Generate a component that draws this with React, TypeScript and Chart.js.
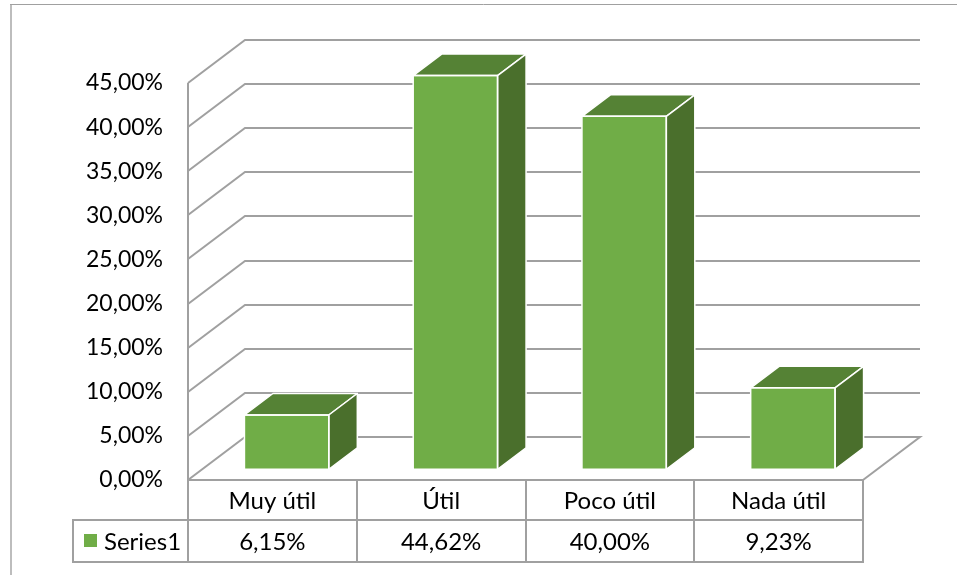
import React, { useEffect, useRef } from "react";
import { Chart, registerables } from "chart.js";

Chart.register(...registerables);

const categories = ["Muy útil", "Útil", "Poco útil", "Nada útil"];
const seriesName = "Series1";
const values = [6.15, 44.62, 40.0, 9.23];
const valueLabels = ["6,15%", "44,62%", "40,00%", "9,23%"];
const yMin = 0;
const yMax = 45;
const yStep = 5;

const FONT = "Lato, 'Open Sans', sans-serif";
const DEPTH = { x: 57, y: -43 };
const BAR_OFFSET = 0.25;
const BAR_DEPTH = 0.5;
const GRID = "#A0A0A0";
const FRONT = "#70AD47";
const TOP = "#558235";
const SIDE = "#4A6F2C";

const fmt = (v: number) => v.toFixed(2).replace(".", ",") + "%";

const excel3d = {
  id: "excel3d",
  beforeDraw(chart: any) {
    const ctx = chart.ctx;
    ctx.save();
    ctx.fillStyle = "#FFFFFF";
    ctx.fillRect(0, 0, chart.width, chart.height);
    ctx.strokeStyle = "#BDBDBD";
    ctx.lineWidth = 2;
    ctx.beginPath();
    ctx.moveTo(11, 4);
    ctx.lineTo(11, chart.height);
    ctx.stroke();
    ctx.strokeStyle = "#A0A0A0";
    ctx.lineWidth = 1;
    ctx.beginPath();
    ctx.moveTo(10, 4.5);
    ctx.lineTo(chart.width, 4.5);
    ctx.stroke();
    ctx.restore();
  },
  beforeDatasetsDraw(chart: any) {
    const ctx = chart.ctx;
    const { left, right } = chart.chartArea;
    const y = chart.scales.y;
    ctx.save();
    ctx.strokeStyle = GRID;
    ctx.lineWidth = 2;
    ctx.lineJoin = "miter";
    for (let v = yMin; v <= yMax + 1e-9; v += yStep) {
      const py = Math.round(y.getPixelForValue(v));
      ctx.beginPath();
      if (v === yMin) {
        ctx.moveTo(right, py);
        ctx.lineTo(right + DEPTH.x, py + DEPTH.y);
        ctx.lineTo(left + DEPTH.x, py + DEPTH.y);
        ctx.lineTo(left, py);
      } else {
        ctx.moveTo(left, py);
        ctx.lineTo(left + DEPTH.x, py + DEPTH.y);
        ctx.lineTo(right + DEPTH.x, py + DEPTH.y);
      }
      ctx.stroke();
    }
    ctx.restore();
    ctx.save();
    ctx.translate(DEPTH.x * BAR_OFFSET, DEPTH.y * BAR_OFFSET);
  },
  afterDatasetsDraw(chart: any) {
    const ctx = chart.ctx;
    const meta = chart.getDatasetMeta(0);
    const dx = DEPTH.x * BAR_DEPTH;
    const dy = DEPTH.y * BAR_DEPTH;
    ctx.lineWidth = 1.5;
    ctx.strokeStyle = "#FFFFFF";
    ctx.lineJoin = "round";
    meta.data.forEach((bar: any) => {
      const { x, y, base, width } = bar.getProps(["x", "y", "base", "width"], true);
      const l = x - width / 2;
      const r = x + width / 2;
      // top face
      ctx.beginPath();
      ctx.moveTo(l, y);
      ctx.lineTo(l + dx, y + dy);
      ctx.lineTo(r + dx, y + dy);
      ctx.lineTo(r, y);
      ctx.closePath();
      ctx.fillStyle = TOP;
      ctx.fill();
      ctx.stroke();
      // side face
      ctx.beginPath();
      ctx.moveTo(r, y);
      ctx.lineTo(r + dx, y + dy);
      ctx.lineTo(r + dx, base + dy);
      ctx.lineTo(r, base);
      ctx.closePath();
      ctx.fillStyle = SIDE;
      ctx.fill();
      ctx.stroke();
      // front face edge
      ctx.strokeRect(l, y, width, base - y);
    });
    ctx.restore();
  },
  afterDraw(chart: any) {
    const ctx = chart.ctx;
    const { left, right } = chart.chartArea;
    const xs = chart.scales.x;
    const ys = chart.scales.y;
    const top = Math.round(ys.getPixelForValue(yMin));
    const row1 = top + 40;
    const row2 = row1 + 42;
    const legendLeft = 73;
    const n = categories.length;
    const bounds: number[] = [left];
    for (let i = 1; i < n; i++) {
      bounds.push(Math.round((xs.getPixelForValue(i - 1) + xs.getPixelForValue(i)) / 2));
    }
    bounds.push(right);
    ctx.save();
    ctx.strokeStyle = GRID;
    ctx.lineWidth = 2;
    ctx.beginPath();
    // left axis line
    ctx.moveTo(left, Math.round(ys.getPixelForValue(yMax)));
    ctx.lineTo(left, row2 + 1);
    // floor front edge
    ctx.moveTo(left, top);
    ctx.lineTo(right, top);
    ctx.moveTo(legendLeft - 1, row1);
    ctx.lineTo(right + 1, row1);
    ctx.moveTo(legendLeft - 1, row2);
    ctx.lineTo(right + 1, row2);
    ctx.moveTo(legendLeft, row1);
    ctx.lineTo(legendLeft, row2);
    bounds.forEach((b, i) => {
      if (i === 0) return;
      ctx.moveTo(b, top);
      ctx.lineTo(b, row2);
    });
    ctx.stroke();

    ctx.fillStyle = "#000000";
    ctx.font = `24px ${FONT}`;
    ctx.textAlign = "center";
    ctx.textBaseline = "middle";
    categories.forEach((c, i) => {
      const cx = xs.getPixelForValue(i);
      ctx.fillText(c, cx, (top + row1) / 2 + 1);
      ctx.fillText(valueLabels[i], cx, (row1 + row2) / 2 + 1);
    });
    // legend key
    ctx.fillStyle = FRONT;
    ctx.fillRect(84, (row1 + row2) / 2 - 7, 13, 13);
    ctx.fillStyle = "#000000";
    ctx.textAlign = "left";
    ctx.fillText(seriesName, 104, (row1 + row2) / 2 + 1);
    ctx.restore();
  },
};

export default function App() {
  const ref = useRef<HTMLCanvasElement | null>(null);
  useEffect(() => {
    if (!ref.current) return;
    const chart = new Chart(ref.current, {
      type: "bar",
      data: {
        labels: categories,
        datasets: [
          {
            label: seriesName,
            data: values,
            backgroundColor: FRONT,
            borderWidth: 0,
            categoryPercentage: 1,
            barPercentage: 0.5,
            clip: false as any,
          },
        ],
      },
      options: {
        responsive: false,
        animation: false,
        devicePixelRatio: 1,
        layout: { padding: { left: 0, top: 83, right: 94, bottom: 95 } },
        plugins: { legend: { display: false }, tooltip: { enabled: false } },
        scales: {
          x: { display: false },
          y: {
            min: yMin,
            max: yMax,
            ticks: {
              stepSize: yStep,
              padding: 25,
              color: "#000000",
              font: { family: FONT, size: 23 },
              callback: (v: any) => fmt(Number(v)),
            },
            grid: { display: false, drawTicks: false },
            border: { display: false },
            afterFit: (s: any) => {
              s.width = 188;
            },
          },
        },
      },
      plugins: [excel3d],
    });
    return () => chart.destroy();
  }, []);
  return (
    <div style={{ position: "absolute", left: 0, top: 0, width: 957, height: 575 }}>
      <canvas ref={ref} width={957} height={575} />
    </div>
  );
}
